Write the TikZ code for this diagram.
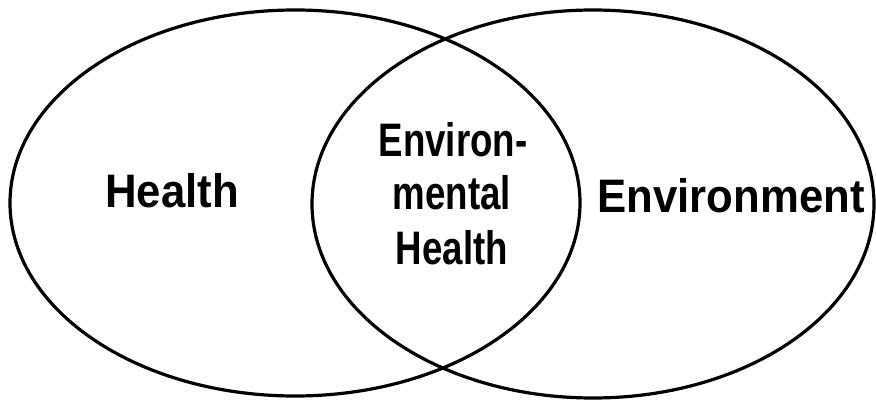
\documentclass[tikz,border=0pt]{standalone}
\usepackage{fontspec}
\newfontfamily\widef[FakeStretch=0.93]{Liberation Sans}
\newfontfamily\narrowf[FakeStretch=0.78]{Liberation Sans}
\tikzset{
  ring/.style={draw=black, line width=3.2pt},
  biglabel/.style={anchor=base, inner sep=0pt, font=\widef\bfseries\fontsize{47}{54}\selectfont},
  midlabel/.style={anchor=base, inner sep=0pt, font=\narrowf\bfseries\fontsize{47}{54}\selectfont}
}
\begin{document}
\begin{tikzpicture}[x=1pt,y=1pt]
\useasboundingbox (0,0) rectangle (876,402);
\fill[white] (0,0) rectangle (876,402);
\draw[ring] (295,199) ellipse [x radius=285, y radius=193];
\draw[ring] (593,198) ellipse [x radius=281, y radius=194];
\node[biglabel] (health) at (172,194) {Health};
\node[biglabel] (environment) at (731,189) {Environment};
\node[midlabel] (envA) at (453,245) {Environ-};
\node[midlabel] (envB) at (452,192) {mental};
\node[midlabel] (envC) at (452,137) {Health};
\end{tikzpicture}
\end{document}
